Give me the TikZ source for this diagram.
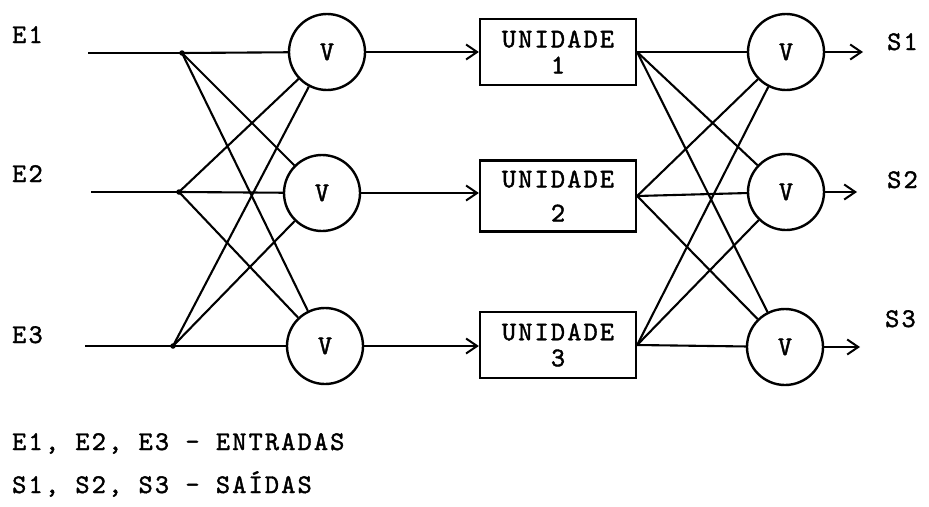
\documentclass[tikz,border=0pt]{standalone}
\usepackage{fontspec}
\usetikzlibrary{arrows.meta}
\newfontfamily\typew{lmmono10-regular.otf}[LetterSpace=8,FakeBold=1.5]
\newcommand\diagfont{\typew\fontsize{27}{25}\selectfont}
\begin{document}
\begin{tikzpicture}[x=1pt,y=-1pt,
  wire/.style={line width=2.1pt},
  arrowwire/.style={line width=2.1pt,-{Straight Barb[length=11pt,width=15pt,line width=2pt]}},
  vnode/.style={circle,draw,line width=2.4pt,minimum size=76pt,inner sep=0pt,font=\diagfont},
  unitbox/.style={rectangle,draw,line width=2.3pt,minimum width=156pt,minimum height=66pt,inner sep=0pt,align=center,font=\diagfont},
  lbl/.style={font=\diagfont,inner sep=0pt,anchor=base west},
  junction/.style={circle,fill,inner sep=0pt,minimum size=5.5pt}
]
\useasboundingbox (0,0) rectangle (929,506);

% input labels and wire starts
\node[lbl] (E1) at (12,43) {E1};
\node[lbl] (E2) at (12,182) {E2};
\node[lbl] (E3) at (12,343) {E3};
\coordinate (i1) at (88,53);
\coordinate (i2) at (91,192);
\coordinate (i3) at (85,346);
\node[junction] (j1) at (182,53) {};
\node[junction] (j2) at (179,192) {};
\node[junction] (j3) at (173,346) {};

% input voters
\node[vnode] (L1) at (327,52) {V};
\node[vnode] (L2) at (322,193) {V};
\node[vnode] (L3) at (325,346) {V};

% processing units
\node[unitbox] (U1) at (558,52) {UNIDADE\\[1pt]1};
\node[unitbox,minimum height=71pt] (U2) at (558,196) {UNIDADE\\[9pt]2};
\node[unitbox] (U3) at (558,345) {UNIDADE\\[1pt]3};

% output voters
\node[vnode] (R1) at (786,52) {V};
\node[vnode] (R2) at (786,192) {V};
\node[vnode] (R3) at (785,347) {V};

% output labels and arrow ends
\node[lbl] (S1) at (887,50) {S1};
\node[lbl] (S2) at (887,188) {S2};
\node[lbl] (S3) at (885,327) {S3};
\coordinate (s1) at (863,52);
\coordinate (s2) at (857,192);
\coordinate (s3) at (860,347);

% input distribution
\draw[wire] (i1) -- (j1.center);
\draw[wire] (i2) -- (j2.center);
\draw[wire] (i3) -- (j3.center);
\foreach \j in {j1,j2,j3}{
  \foreach \v in {L1,L2,L3}{
    \draw[wire] (\j.center) -- (\v);
  }
}

% voters to units
\draw[arrowwire] (L1) -- (L1 -| U1.west);
\draw[arrowwire] (L2) -- (L2 -| U2.west);
\draw[arrowwire] (L3) -- (L3 -| U3.west);

% output distribution
\foreach \u in {U1,U2,U3}{
  \foreach \v in {R1,R2,R3}{
    \draw[wire] (\u.east) -- (\v);
  }
}

% outputs
\draw[arrowwire] (R1) -- (s1);
\draw[arrowwire] (R2) -- (s2);
\draw[arrowwire] (R3) -- (s3);

% legend
\node[lbl] (leg1) at (12,450) {E1, E2, E3 - ENTRADAS};
\node[lbl] (leg2) at (12,493) {S1, S2, S3 - SAÍDAS};
\end{tikzpicture}
\end{document}
